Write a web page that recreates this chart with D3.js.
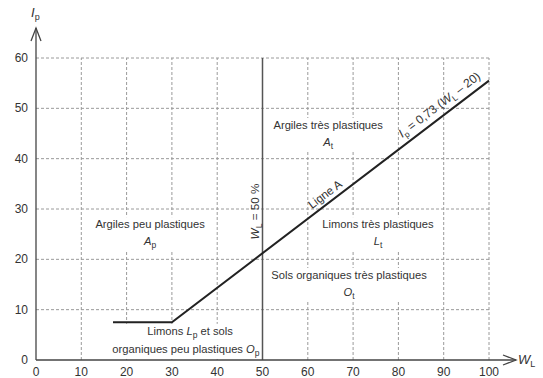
<!DOCTYPE html>
<html><head><meta charset="utf-8">
<script src="https://cdn.jsdelivr.net/npm/d3@7"></script>
<style>
body{margin:0;background:#fff;}
svg{display:block;font-family:"Liberation Sans",Arial,sans-serif;}
</style></head>
<body><svg id="c" width="543" height="378"></svg>
<script>
// ---- data ----
const xTicks = [0,10,20,30,40,50,60,70,80,90,100];
const yTicks = [0,10,20,30,40,50,60];
const ligneA_W = [17, 30, 100];
const ligneA_Ip = [7.5, 7.5, 55.5];
const limitWL = 50;
// zone labels: line 1 text, symbol letter, symbol subscript, anchor (W, Ip)
const zoneText = ["Argiles peu plastiques","Argiles très plastiques","Limons très plastiques","Sols organiques très plastiques"];
const zoneSym = ["A","A","L","O"];
const zoneSub = ["p","t","t","t"];
const zoneW = [25.2, 64.5, 75.5, 69.1];
const zoneIp = [26.2, 45.9, 26.2, 16.1];

const FS = 11.2, SUB = 8.5;
const svg = d3.select("#c");
const x = d3.scaleLinear().domain([0,100]).range([36,489]);
const y = d3.scaleLinear().domain([0,60]).range([360,58]);

// grid
const g = svg.append("g");
g.selectAll("line.gx").data(xTicks.filter(d=>d>0)).join("line")
  .attr("x1",d=>x(d)).attr("x2",d=>x(d)).attr("y1",y(0)).attr("y2",y(60))
  .attr("stroke","#9a9a9a").attr("stroke-width",1).attr("stroke-dasharray","3,2");
g.selectAll("line.gy").data(yTicks.filter(d=>d>0)).join("line")
  .attr("x1",x(0)).attr("x2",x(100)).attr("y1",d=>y(d)).attr("y2",d=>y(d))
  .attr("stroke","#9a9a9a").attr("stroke-width",1).attr("stroke-dasharray","3,2");

// zone labels with white boxes
function boxed(gr){
  const b = gr.node().getBBox();
  gr.insert("rect",":first-child").attr("x",b.x-3).attr("y",b.y-1).attr("width",b.width+6).attr("height",b.height+2).attr("fill","#fff");
}
zoneText.forEach((t,i)=>{
  const gr = svg.append("g").attr("font-size",FS).attr("fill","#333").attr("text-anchor","middle");
  gr.append("text").attr("x",x(zoneW[i])).attr("y",y(zoneIp[i])).text(t);
  const s = gr.append("text").attr("x",x(zoneW[i])).attr("y",y(zoneIp[i])+17);
  s.append("tspan").attr("font-style","italic").text(zoneSym[i]);
  s.append("tspan").attr("font-size",SUB).attr("dy",3).text(zoneSub[i]);
  boxed(gr);
});
{
  const gr = svg.append("g").attr("font-size",FS).attr("fill","#333").attr("text-anchor","middle");
  const t1 = gr.append("text").attr("x",x(34)).attr("y",y(5.0));
  t1.append("tspan").text("Limons ");
  t1.append("tspan").attr("font-style","italic").text("L");
  t1.append("tspan").attr("font-size",SUB).attr("dy",3).text("p");
  t1.append("tspan").attr("dy",-3).text(" et sols");
  const t2 = gr.append("text").attr("x",x(33.1)).attr("y",y(1.4));
  t2.append("tspan").text("organiques peu plastiques ");
  t2.append("tspan").attr("font-style","italic").text("O");
  t2.append("tspan").attr("font-size",SUB).attr("dy",3).text("p");
  boxed(gr);
}

// W_L = 50 % vertical line
svg.append("line").attr("x1",x(limitWL)).attr("x2",x(limitWL)).attr("y1",y(0)).attr("y2",y(60))
  .attr("stroke","#555").attr("stroke-width",1.5);
{
  const tx = x(limitWL)-4, ty = y(29.5);
  const t = svg.append("text").attr("transform",`translate(${tx},${ty}) rotate(-90)`)
    .attr("font-size",FS+0.5).attr("fill","#333").attr("text-anchor","middle");
  t.append("tspan").attr("font-style","italic").text("W");
  t.append("tspan").attr("font-size",SUB).attr("dy",3).text("L");
  t.append("tspan").attr("dy",-3).text(" = 50 %");
}

// Ligne A
const pts = ligneA_W.map((w,i)=>[x(w),y(ligneA_Ip[i])]);
svg.append("path").attr("d",d3.line()(pts)).attr("fill","none").attr("stroke","#222").attr("stroke-width",2);
const ang = Math.atan2(pts[2][1]-pts[1][1], pts[2][0]-pts[1][0])*180/Math.PI;
function onLine(w){ const t=(w-ligneA_W[1])/(ligneA_W[2]-ligneA_W[1]); return ligneA_Ip[1]+t*(ligneA_Ip[2]-ligneA_Ip[1]); }
{
  const w=65, px=x(w), py=y(onLine(w));
  svg.append("text").attr("transform",`translate(${px},${py}) rotate(${ang}) translate(0,-5)`)
    .attr("font-size",FS+0.5).attr("fill","#333").attr("text-anchor","middle").text("Ligne A");
  const w2=90.5, px2=x(w2), py2=y(onLine(w2));
  const t = svg.append("text").attr("transform",`translate(${px2},${py2}) rotate(${ang}) translate(0,-7)`)
    .attr("font-size",12).attr("fill","#333").attr("text-anchor","middle");
  t.append("tspan").attr("font-style","italic").text("I");
  t.append("tspan").attr("font-size",SUB).attr("dy",3).text("p");
  t.append("tspan").attr("dy",-3).text(" = 0,73 (");
  t.append("tspan").attr("font-style","italic").text("W");
  t.append("tspan").attr("font-size",SUB).attr("dy",3).text("L");
  t.append("tspan").attr("dy",-3).text(" – 20)");
}

// axes
const ax = svg.append("g").attr("stroke","#444").attr("stroke-width",1.3).attr("fill","none");
ax.append("line").attr("x1",x(0)).attr("x2",x(0)).attr("y1",y(0)).attr("y2",28);
ax.append("line").attr("x1",x(0)).attr("x2",516).attr("y1",y(0)).attr("y2",y(0));
ax.append("path").attr("d",`M${x(0)-5},${41} L${x(0)},${28} L${x(0)+5},${41}`);
ax.append("path").attr("d",`M${503},${y(0)-5} L${516},${y(0)} L${503},${y(0)+5}`);

// tick labels
svg.append("g").selectAll("text").data(xTicks).join("text")
  .attr("x",d=>x(d)).attr("y",376).attr("text-anchor","middle")
  .attr("font-size",12).attr("fill","#333").text(d=>d);
svg.append("g").selectAll("text").data(yTicks).join("text")
  .attr("x",28).attr("y",d=>y(d)+4).attr("text-anchor","end")
  .attr("font-size",12).attr("fill","#333").text(d=>d);

// axis titles
{
  const t = svg.append("text").attr("x",31).attr("y",17).attr("font-size",13).attr("fill","#333");
  t.append("tspan").attr("font-style","italic").text("I");
  t.append("tspan").attr("font-size",9).attr("dy",3).text("p");
  const t2 = svg.append("text").attr("x",518).attr("y",y(0)+4).attr("font-size",13).attr("fill","#333");
  t2.append("tspan").attr("font-style","italic").text("W");
  t2.append("tspan").attr("font-size",9).attr("dy",3).text("L");
}
</script></body></html>
